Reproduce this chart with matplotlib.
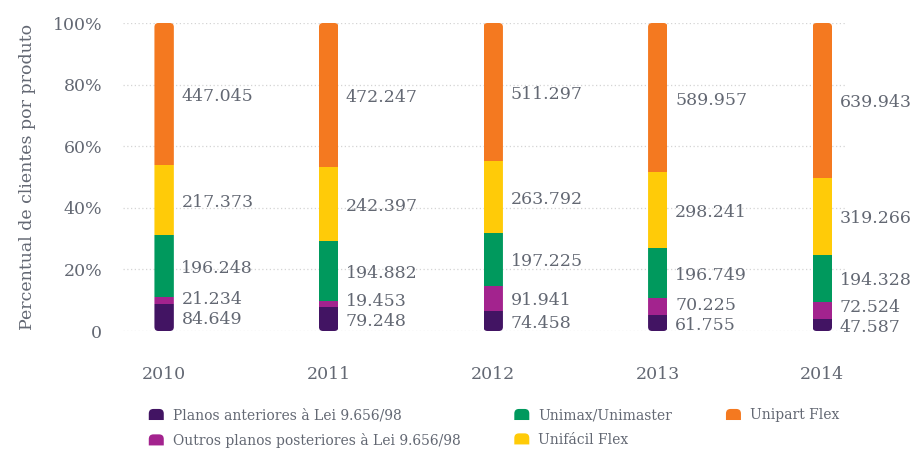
import numpy as np
import matplotlib.pyplot as plt
from matplotlib.patches import FancyBboxPatch, Patch, PathPatch
from matplotlib.path import Path
from matplotlib.legend_handler import HandlerBase

years = ["2010", "2011", "2012", "2013", "2014"]
series_names = [
    "Planos anteriores à Lei 9.656/98",
    "Outros planos posteriores à Lei 9.656/98",
    "Unimax/Unimaster",
    "Unifácil Flex",
    "Unipart Flex",
]
planos_anteriores = [84649, 79248, 74458, 61755, 47587]
outros_planos = [21234, 19453, 91941, 70225, 72524]
unimax = [196248, 194882, 197225, 196749, 194328]
unifacil = [217373, 242397, 263792, 298241, 319266]
unipart = [447045, 472247, 511297, 589957, 639943]
value_labels = [
    ["84.649", "79.248", "74.458", "61.755", "47.587"],
    ["21.234", "19.453", "91.941", "70.225", "72.524"],
    ["196.248", "194.882", "197.225", "196.749", "194.328"],
    ["217.373", "242.397", "263.792", "298.241", "319.266"],
    ["447.045", "472.247", "511.297", "589.957", "639.943"],
]
colors = ["#421463", "#a3238e", "#00995d", "#ffcb08", "#f47920"]

TEXT = "#636873"
FONT = "DejaVu Serif"
plt.rcParams["font.family"] = FONT

data = np.array([planos_anteriores, outros_planos, unimax, unifacil, unipart], dtype=float)
pct = data / data.sum(axis=0) * 100

W, H = 916, 449
fig = plt.figure(figsize=(W / 100, H / 100), dpi=100)
ax_l, ax_r, ax_b, ax_t = 123, 847, 331, 23
ax = fig.add_axes([ax_l / W, 1 - ax_b / H, (ax_r - ax_l) / W, (ax_b - ax_t) / H])
xlim = (-0.25, 4.15)
ax.set_xlim(*xlim)
ax.set_ylim(0, 100)

x = np.arange(len(years))
bw = 0.118
px_x = (ax_r - ax_l) / (xlim[1] - xlim[0])
px_y = (ax_b - ax_t) / 100
rad_px = 4
r = rad_px / px_x
aspect = (rad_px / px_y) / r

for i in range(len(years)):
    clip = FancyBboxPatch((x[i] - bw / 2, 0), bw, 100,
                          boxstyle=f"round,pad=0,rounding_size={r}",
                          mutation_aspect=aspect, transform=ax.transData)
    bottom = 0
    label_ys = []
    for s in range(len(series_names)):
        bars = ax.bar(x[i], pct[s, i], bw, bottom=bottom, color=colors[s],
                      linewidth=0, zorder=3)
        for b in bars:
            b.set_clip_path(clip)
        y = bottom + pct[s, i] / 2 - 0.8
        if label_ys and y < label_ys[-1] + 6.6:
            y = label_ys[-1] + 6.6
        label_ys.append(y)
        bottom += pct[s, i]
    for s, y in enumerate(label_ys):
        ax.text(x[i] + 0.105, y, value_labels[s][i], va="center", ha="left",
                fontsize=12.5, color=TEXT)

ax.set_yticks(np.arange(0, 101, 20))
ax.set_yticklabels(["0", "20%", "40%", "60%", "80%", "100%"])
ax.set_xticks(x)
ax.set_xticklabels(years)
ax.tick_params(axis="y", length=0, pad=15, labelsize=12.5, labelcolor=TEXT)
ax.tick_params(axis="x", length=0, pad=25, labelsize=12.5, labelcolor=TEXT)
ax.grid(axis="y", linestyle=(0, (1, 2)), color="#d4d4d4", linewidth=0.9, zorder=0)
for sp in ax.spines.values():
    sp.set_visible(False)
ax.set_ylabel("Percentual de clientes por produto", fontsize=12.5, color=TEXT)
ax.yaxis.set_label_coords(-(ax_l - 36) / (ax_r - ax_l), 0.5)


class HandlerRoundTop(HandlerBase):
    # square marker with rounded top corners
    def create_artists(self, legend, orig_handle, xdescent, ydescent, width, height, fontsize, trans):
        x0, y0 = -xdescent + width * 0.05, -ydescent
        w, h = width * 0.9, height
        k = min(w, h) * 0.42
        verts = [(x0, y0), (x0 + w, y0), (x0 + w, y0 + h - k),
                 (x0 + w, y0 + h), (x0 + w - k, y0 + h),
                 (x0 + k, y0 + h),
                 (x0, y0 + h), (x0, y0 + h - k),
                 (x0, y0)]
        codes = [Path.MOVETO, Path.LINETO, Path.LINETO,
                 Path.CURVE3, Path.CURVE3, Path.LINETO,
                 Path.CURVE3, Path.CURVE3, Path.CLOSEPOLY]
        p = PathPatch(Path(verts, codes), facecolor=orig_handle.get_facecolor(),
                      linewidth=0, transform=trans)
        return [p]


handles = [Patch(facecolor=c) for c in colors]
leg = fig.legend(handles, series_names, handler_map={Patch: HandlerRoundTop()},
                 ncol=3, loc="center left", bbox_to_anchor=(141 / W, 1 - 428 / H),
                 frameon=False, fontsize=10, labelcolor=TEXT,
                 handlelength=1.2, handleheight=0.85, handletextpad=0.6,
                 columnspacing=3.8, labelspacing=0.75, borderpad=0)

fig.savefig("out.png", dpi=100)
